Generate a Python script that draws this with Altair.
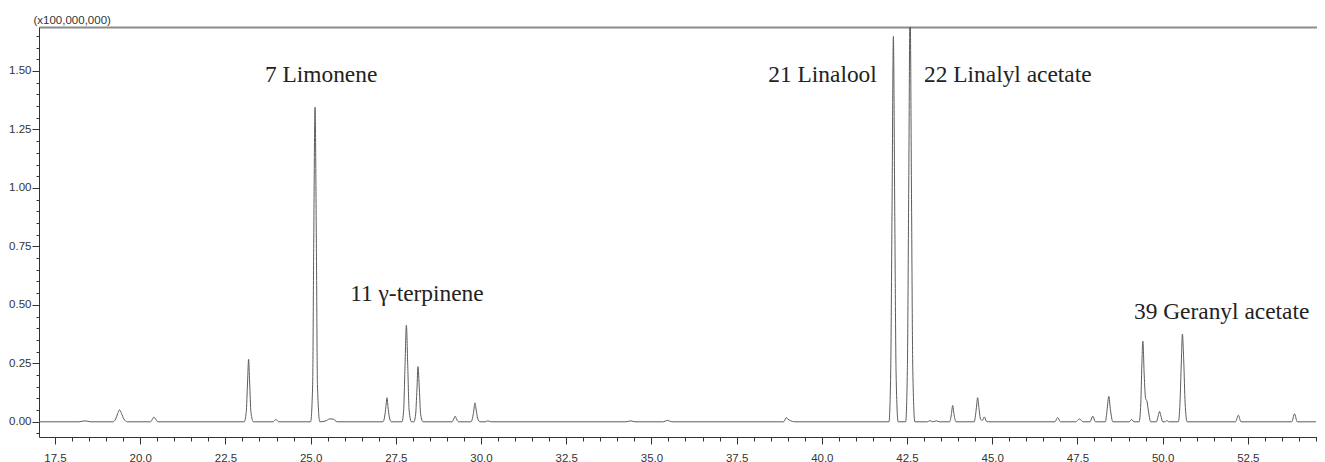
import altair as alt
import pandas as pd

# Chromatogram trace (retention time in min, intensity in units of 1e8)
retention_time = [
    17.00, 18.20, 18.38, 18.55,
    19.20, 19.28, 19.34, 19.39, 19.45, 19.52, 19.62,
    20.30, 20.36, 20.40, 20.45, 20.52,
    23.05, 23.11, 23.15, 23.18, 23.21, 23.25, 23.32,
    23.90, 23.98, 24.06,
    25.00, 25.06, 25.09, 25.13, 25.17, 25.20, 25.27,
    25.45, 25.55, 25.65, 25.78,
    27.12, 27.17, 27.21, 27.24, 27.27, 27.31, 27.37,
    27.68, 27.73, 27.77, 27.81, 27.85, 27.89, 27.96,
    28.03, 28.08, 28.12, 28.15, 28.19, 28.23, 28.30,
    29.15, 29.20, 29.24, 29.28, 29.34,
    29.70, 29.75, 29.79, 29.82, 29.86, 29.90, 29.97,
    30.12, 30.20, 30.30,
    34.25, 34.39, 34.52,
    35.35, 35.47, 35.60,
    38.88, 38.93, 38.96, 39.00, 39.08, 39.20,
    41.97, 42.02, 42.06, 42.10, 42.14, 42.18, 42.24,
    42.46, 42.51, 42.55, 42.59, 42.63, 42.67, 42.73,
    43.10, 43.17, 43.25, 43.37, 43.45,
    43.75, 43.80, 43.84, 43.88, 43.94,
    44.47, 44.52, 44.55, 44.57, 44.61, 44.66, 44.71, 44.77, 44.82, 44.88,
    46.84, 46.92, 47.00,
    47.45, 47.56, 47.66,
    47.87, 47.95, 48.03,
    48.32, 48.37, 48.42, 48.47, 48.54,
    49.02, 49.09, 49.16,
    49.31, 49.36, 49.39, 49.42, 49.46, 49.50, 49.54, 49.58, 49.65,
    49.82, 49.87, 49.91, 49.95, 50.00,
    50.08, 50.12, 50.18,
    50.46, 50.51, 50.55, 50.58, 50.62, 50.66, 50.72,
    52.14, 52.22, 52.30,
    53.79, 53.87, 53.95,
    54.50,
]
intensity = [
    0.000, 0.000, 0.004, 0.000,
    0.000, 0.012, 0.035, 0.051, 0.036, 0.012, 0.000,
    0.000, 0.012, 0.020, 0.012, 0.000,
    0.000, 0.040, 0.170, 0.267, 0.170, 0.040, 0.000,
    0.000, 0.010, 0.000,
    0.000, 0.160, 0.740, 1.345, 0.740, 0.160, 0.000,
    0.004, 0.012, 0.012, 0.000,
    0.000, 0.020, 0.065, 0.103, 0.065, 0.020, 0.000,
    0.000, 0.050, 0.240, 0.413, 0.240, 0.050, 0.000,
    0.000, 0.030, 0.140, 0.236, 0.140, 0.030, 0.000,
    0.000, 0.012, 0.024, 0.012, 0.000,
    0.000, 0.015, 0.050, 0.081, 0.050, 0.015, 0.000,
    0.000, 0.004, 0.000,
    0.000, 0.004, 0.000,
    0.000, 0.006, 0.000,
    0.000, 0.012, 0.018, 0.012, 0.005, 0.000,
    0.000, 0.200, 0.900, 1.648, 0.900, 0.200, 0.000,
    0.000, 0.220, 1.000, 1.800, 1.000, 0.220, 0.000,
    0.000, 0.005, 0.000, 0.004, 0.000,
    0.000, 0.030, 0.070, 0.030, 0.000,
    0.000, 0.040, 0.080, 0.103, 0.060, 0.010, 0.006, 0.021, 0.004, 0.000,
    0.000, 0.018, 0.000,
    0.000, 0.012, 0.000,
    0.000, 0.024, 0.000,
    0.000, 0.050, 0.109, 0.050, 0.000,
    0.000, 0.010, 0.000,
    0.000, 0.080, 0.240, 0.345, 0.200, 0.100, 0.088, 0.050, 0.000,
    0.000, 0.025, 0.044, 0.025, 0.000,
    0.000, 0.006, 0.000,
    0.000, 0.080, 0.260, 0.375, 0.260, 0.080, 0.000,
    0.000, 0.028, 0.000,
    0.000, 0.034, 0.000,
    0.000,
]

# Peak annotations
label_text = ["7 Limonene", "11 γ-terpinene", "21 Linalool", "22 Linalyl acetate", "39 Geranyl acetate"]
label_time = [23.66, 26.16, 38.43, 43.00, 49.16]
label_intensity = [1.453, 0.518, 1.453, 1.453, 0.439]

# Axis tick values
x_major = [17.5, 20.0, 22.5, 25.0, 27.5, 30.0, 32.5, 35.0, 37.5, 40.0, 42.5, 45.0, 47.5, 50.0, 52.5]
y_major = [0.00, 0.25, 0.50, 0.75, 1.00, 1.25, 1.50]
x_minor = [round(17.0 + 0.5 * k, 2) for k in range(76)]
y_minor = [round(-0.05 + 0.05 * k, 2) for k in range(35)]

trace = pd.DataFrame({"t": retention_time, "i": intensity})
labels = pd.DataFrame({"t": label_time, "i": label_intensity, "name": label_text})

xscale = alt.Scale(domain=[17.03, 54.53], nice=False, zero=False)
yscale = alt.Scale(domain=[-0.065, 1.688], nice=False, zero=False)

AX = "#333333"
FONT = "Liberation Sans"

line = alt.Chart(trace).mark_line(
    color="#5c5c5c", strokeWidth=1, clip=True, interpolate="monotone"
).encode(
    x=alt.X("t:Q", scale=xscale, axis=alt.Axis(
        orient="bottom", values=x_major, format=".1f", tickSize=7, labelPadding=8,
        grid=False, title=None, labelFont=FONT, labelFontSize=11.5, labelColor=AX,
        tickColor=AX, domainColor=AX, labelFlush=False)),
    y=alt.Y("i:Q", scale=yscale, axis=alt.Axis(
        orient="left", values=y_major, format=".2f", tickSize=7, labelPadding=1,
        grid=False, labelFont=FONT, labelFontSize=11.5, labelColor=AX,
        tickColor=AX, domainColor=AX,
        title="(x100,000,000)", titleAngle=0, titleAlign="left", titleBaseline="alphabetic",
        titleX=-6, titleY=-4, titleFont=FONT, titleFontSize=11.5, titleFontWeight="normal",
        titleColor=AX)),
)

minor = alt.Chart(trace).mark_line(opacity=0).encode(
    x=alt.X("t:Q", scale=xscale, axis=alt.Axis(
        orient="bottom", values=x_minor, labels=False, tickSize=4, domain=False,
        grid=False, title=None, tickColor=AX)),
    y=alt.Y("i:Q", scale=yscale, axis=alt.Axis(
        orient="left", values=y_minor, labels=False, tickSize=3, domain=False,
        grid=False, title=None, tickColor=AX)),
)

text = alt.Chart(labels).mark_text(
    font="Liberation Serif", fontSize=23.4, color="#222222", align="left", baseline="alphabetic"
).encode(
    x=alt.X("t:Q", scale=xscale, axis=alt.Axis(
        orient="top", values=[], labels=False, ticks=False, domain=True, grid=False,
        title=None, domainColor="#8c8c8c", domainWidth=2)),
    y=alt.Y("i:Q", scale=yscale, axis=None),
    text="name:N",
)

chart = alt.layer(minor, line, text).resolve_axis(x="independent", y="independent").properties(
    width=1278,
    height=410,
    background="white",
    autosize=alt.AutoSizeParams(type="none"),
    padding={"left": 31, "top": 19, "right": 0, "bottom": 30},
).configure_view(stroke=None)

chart.save("out.html", embed_options={"renderer": "svg", "actions": False})
